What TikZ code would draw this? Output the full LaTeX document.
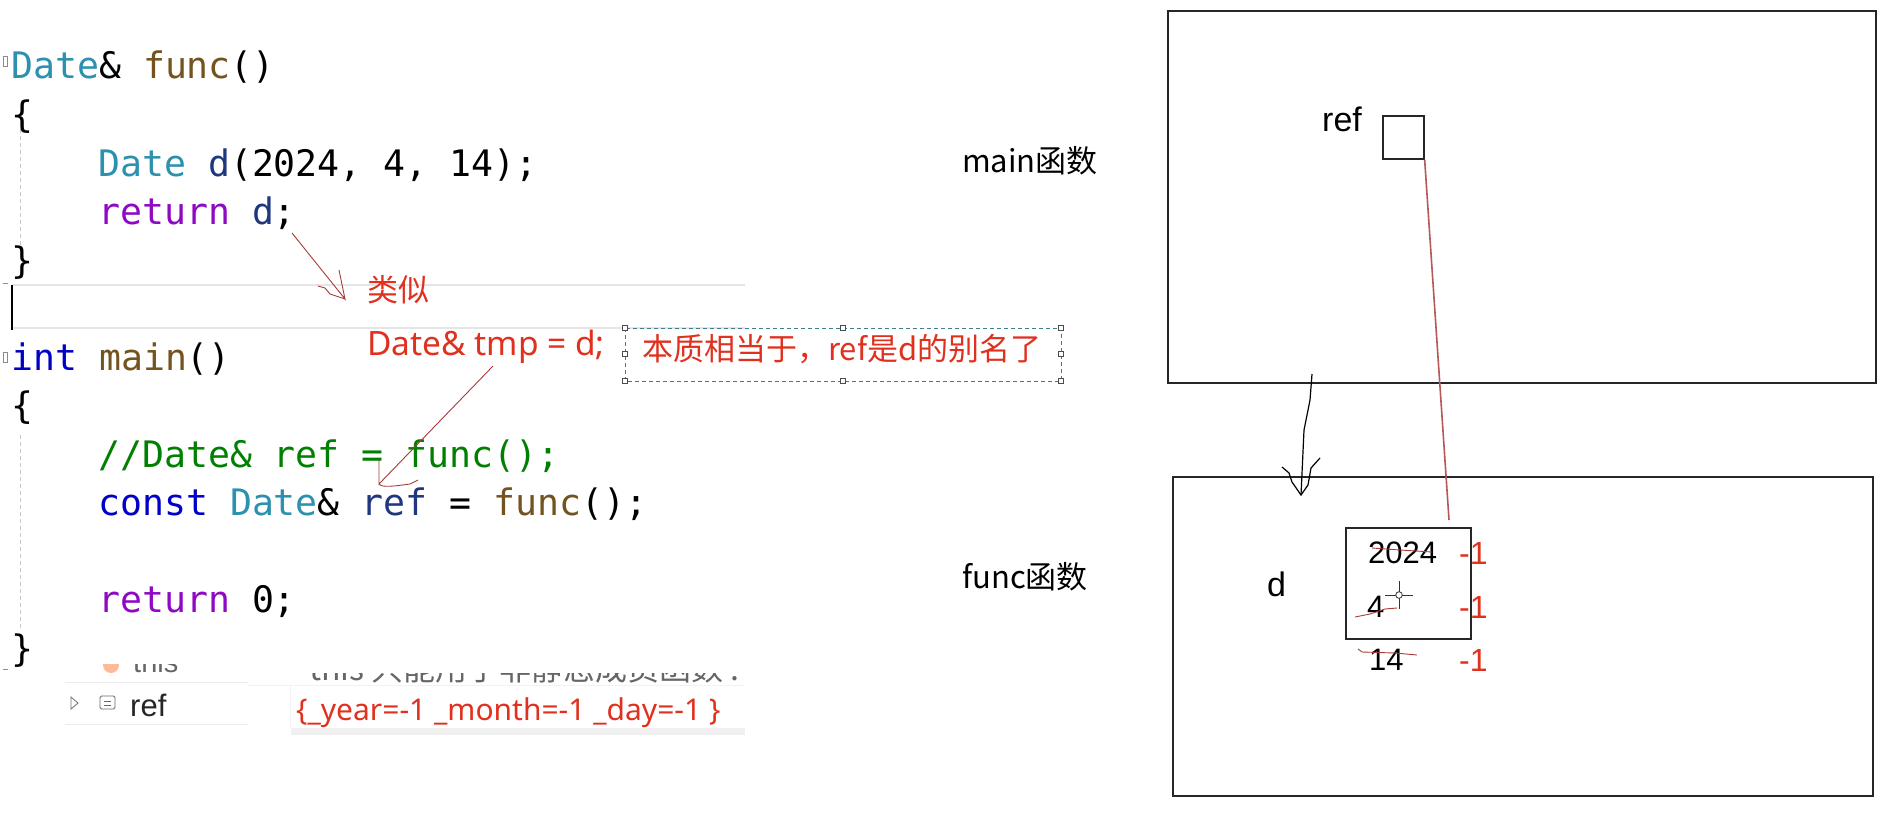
\documentclass[tikz,border=0pt]{standalone}
\usepackage{fontspec}
\setmainfont{Noto Sans CJK SC}
\newfontfamily\codefont{DejaVu Sans Mono}
\newfontfamily\latinfont{Liberation Sans}
\newfontfamily\notolat{Noto Sans}
\definecolor{cType}{HTML}{2B91AF}
\definecolor{cFunc}{HTML}{74531F}
\definecolor{cKey}{HTML}{0000C8}
\definecolor{cFlow}{HTML}{8F08C4}
\definecolor{cVar}{HTML}{1F377F}
\definecolor{cCom}{HTML}{008000}
\definecolor{cRed}{HTML}{E0301E}
\definecolor{cInk}{HTML}{A83A3A}
\definecolor{cGuide}{HTML}{C8C8C8}
\definecolor{cDash}{HTML}{3E7F8F}
\tikzset{
  code/.style={anchor=base west,inner sep=0pt,font=\codefont\fontsize{36.5}{36.5}\selectfont},
  note/.style={anchor=base west,inner sep=0pt,text=cRed,font=\fontsize{31}{31}\selectfont},
  lab/.style={anchor=base west,inner sep=0pt,font=\fontsize{31}{31}\selectfont},
  num/.style={anchor=base west,inner sep=0pt,font=\latinfont\fontsize{31}{31}\selectfont},
  rnum/.style={anchor=base west,inner sep=0pt,text=cRed,font=\latinfont\fontsize{32}{32}\selectfont},
  ink/.style={draw=cInk,line width=0.9pt},
  frame/.style={draw=black!85,line width=1.3pt},
  handle/.style={draw=black!70,fill=white,line width=0.8pt,minimum size=5pt,inner sep=0pt},
}
\begin{document}
\begin{tikzpicture}[x=1pt,y=-1pt]
\useasboundingbox (0,0) rectangle (1900,817);
\fill[white] (0,0) rectangle (1900,817);
% editor current-line band
\draw[black!10,line width=2.5pt] (12,285) -- (745,285);
\draw[black!10,line width=2.5pt] (12,328) -- (745,328);
\draw[black,line width=1.2pt] (12,285) -- (12,330);
% indent guides
\draw[cGuide,line width=1pt,dash pattern=on 4pt off 3pt] (20,122) -- (20,245);
\draw[cGuide,line width=1pt,dash pattern=on 4pt off 3pt] (20,435) -- (20,630);
% fold marks
\draw[black!45,line width=.7pt] (7,56) rectangle (3,66);
\draw[black!45,line width=.7pt] (7,352) rectangle (3,362);
\draw[black!45,line width=.7pt] (3,283) -- (8,283);
\draw[black!45,line width=.7pt] (3,669) -- (8,669);
% code
\node[code] (l1) at (11,78) {\textcolor{cType}{Date}\textcolor{black}{\&} \textcolor{cFunc}{func}\textcolor{black}{()}};
\node[code] (l2) at (11,127) {\{};
\node[code] (l3) at (98,176) {\textcolor{cType}{Date} \textcolor{cVar}{d}\textcolor{black}{(2024, 4, 14);}};
\node[code] (l4) at (98,224) {\textcolor{cFlow}{return} \textcolor{cVar}{d}\textcolor{black}{;}};
\node[code] (l5) at (11,273) {\}};
\node[code] (l7) at (11,370) {\textcolor{cKey}{int} \textcolor{cFunc}{main}\textcolor{black}{()}};
\node[code] (l8) at (11,418) {\{};
\node[code,text=cCom] (l9) at (98,467) {//Date\& ref = func();};
\node[code] (l10) at (98,515) {\textcolor{cKey}{const} \textcolor{cType}{Date}\textcolor{black}{\&} \textcolor{cVar}{ref} \textcolor{black}{=} \textcolor{cFunc}{func}\textcolor{black}{();}};
\node[code] (l12) at (98,612) {\textcolor{cFlow}{return} \textcolor{black}{0;}};
\node[code] (l13) at (11,661) {\}};
% annotations
\node[note] (sim) at (367,301) {类似};
\node[note,font=\notolat\fontsize{33.5}{33.5}\selectfont] (tmp) at (367,355) {Date\& tmp = d;};
\node[note] (ess) at (642,360) {本质相当于，ref是d的别名了};
\draw[cDash,line width=.9pt,dash pattern=on 4pt off 3pt] (625,328) rectangle (1061,381);
\foreach \hx/\hy in {625/328,843/328,1061/328,625/354,1061/354,625/381,843/381,1061/381}
  \node[handle] at (\hx,\hy) {};
% hand-drawn arrows on the code
\coordinate (semi) at (292,233);
\coordinate (simtip) at (345,299);
\draw[ink] (semi) -- (simtip) -- (339,270);
\draw[ink] (simtip) -- (330,294) -- (325,288) -- (318,286);
\coordinate (tmpfoot) at (493,366);
\coordinate (reftip) at (379,484);
\draw[ink] (tmpfoot) -- (reftip) -- (379,460);
\draw[ink] (reftip) .. controls (382,488) and (395,486) .. (410,484) -- (418,480);
% watch panel
\begin{scope}
\clip (60,664) rectangle (250,674);
\node[anchor=base west,inner sep=0pt,text=black!60,font=\latinfont\fontsize{29}{29}\selectfont] (thiswatch) at (133,672) {this};
\fill[red!35!orange!40] (111,665) circle (8);
\end{scope}
\begin{scope}
\clip (300,673) rectangle (745,684);
\node[anchor=base west,inner sep=0pt,text=black!60,font=\fontsize{32}{32}\selectfont] (thisnote) at (309,680) {this 只能用于非静态成员函数 .};
\end{scope}
\draw[black!8,line width=1pt] (65,682) -- (248,682);
\draw[black!8,line width=1pt] (65,724) -- (248,724);
\draw[black!5,line width=1pt] (248,685) -- (745,685);
\draw[black!5,line width=1pt] (290,685) -- (290,728);
\draw[black!55,line width=.8pt] (71,697) -- (78,703) -- (71,709) -- cycle;
\draw[black!60,line width=.8pt,rounded corners=1.5pt] (100,696) rectangle (115,709);
\draw[black!60,line width=.8pt] (104,701) -- (111,701) (104,705) -- (111,705);
\node[anchor=base west,inner sep=0pt,text=black!85,font=\latinfont\fontsize{31}{31}\selectfont] (refw) at (130,716) {ref};
\fill[black!6] (291,728) rectangle (745,735);
\node[note,font=\notolat\fontsize{30}{30}\selectfont] (val) at (296,720) {\{\_year=-1 \_month=-1 \_day=-1 \}};
% side labels
\node[lab] (mainl) at (962,172) {main函数};
\node[lab] (funcl) at (962,588) {func函数};
% memory boxes
\node[frame,draw,minimum width=708pt,minimum height=372pt,inner sep=0pt] (mainframe) at (1522,197) {};
\node[frame,draw,minimum width=700pt,minimum height=319pt,inner sep=0pt] (funcframe) at (1523,636.5) {};
\node[frame,draw,minimum width=41pt,minimum height=43pt,inner sep=0pt] (refbox) at (1403.5,137.5) {};
\node[frame,draw,minimum width=125pt,minimum height=111pt,inner sep=0pt] (valbox) at (1408.5,583.5) {};
\node[lab,text=black,font=\latinfont\fontsize{34}{34}\selectfont] (reflab) at (1322,131) {ref};
\node[num,font=\latinfont\fontsize{34}{34}\selectfont] (dlab) at (1267,596) {d};
\node[num] (y) at (1368,563) {2024};
\node[num] (m) at (1367,617) {4};
\node[num] (dd) at (1369,670) {14};
\node[rnum] (r1) at (1459,564) {-1};
\node[rnum] (r2) at (1459,618) {-1};
\node[rnum] (r3) at (1459,671) {-1};
% strike-outs
\draw[ink] (1372,548) -- (1400,550) -- (1432,552);
\draw[ink] (1355,617) -- (1370,614) -- (1385,609) -- (1397,608);
\draw[ink] (1358,649) -- (1362,652) -- (1395,653) -- (1417,655);
% pointer from ref box
\coordinate (refptr) at (1449,520);
\draw[draw=cInk!85,line width=1.6pt] (refbox.south east) -- (refptr);
% black hand arrow
\coordinate (callstart) at (1312,374);
\coordinate (calltip) at (1301,495);
\draw[black,line width=1.2pt] (callstart) -- (1310,400) -- (1304,430) -- (calltip);
\draw[black,line width=1.2pt] (1282,467) -- (1289,473) -- (1292,482) -- (calltip) -- (1308,485) -- (1311,468) -- (1320,458);
% cursor
\draw[black!80,line width=.8pt] (1399,595) circle (3.3);
\draw[black!80,line width=.8pt] (1385,595) -- (1396,595) (1402,595) -- (1413,595) (1399,581) -- (1399,592) (1399,598) -- (1399,609);
\end{tikzpicture}
\end{document}
